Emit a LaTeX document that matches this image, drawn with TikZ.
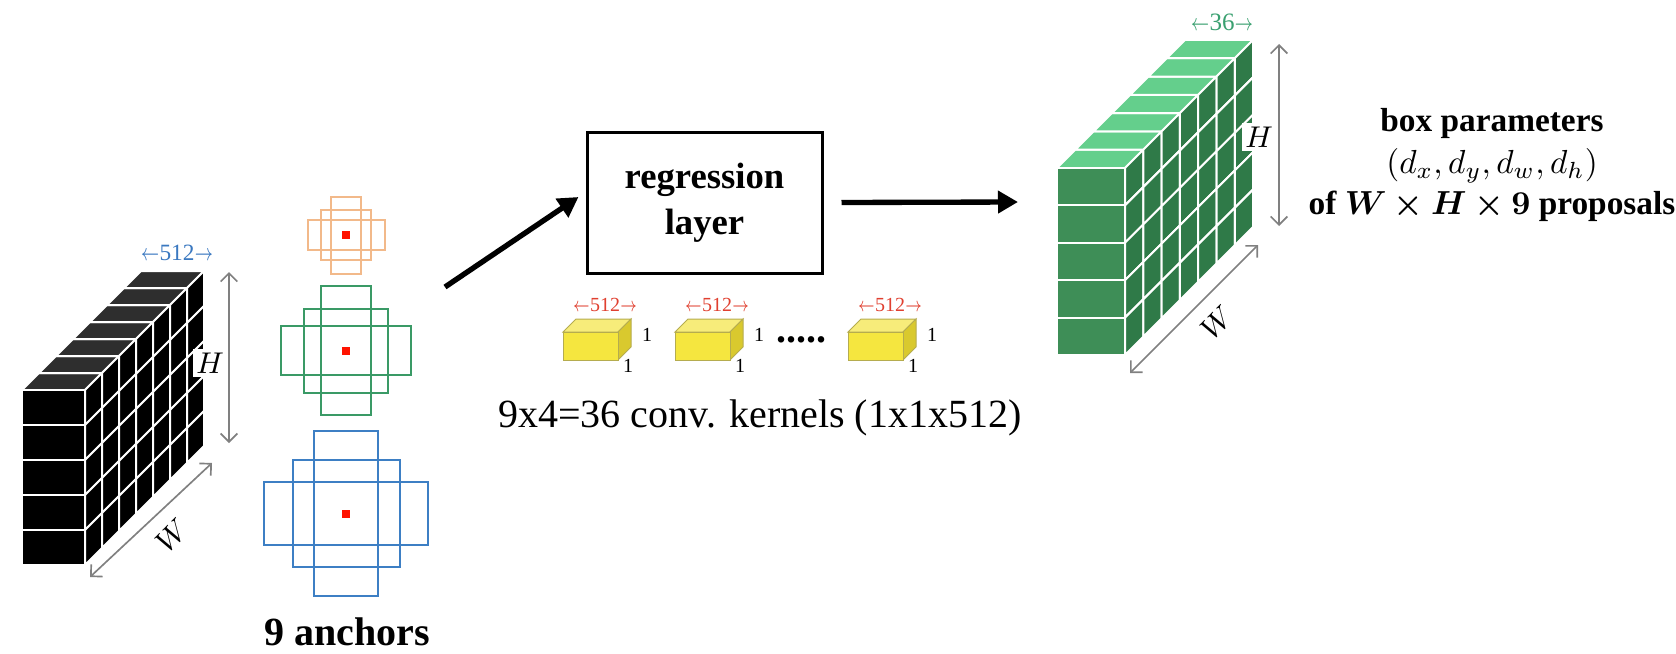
\documentclass[tikz,border=0pt]{standalone}
\usepackage{fontspec}
\setmainfont{Liberation Serif}
\usepackage{bm}
\usetikzlibrary{arrows.meta}

\definecolor{anchororange}{HTML}{F2B98A}
\definecolor{anchorgreen}{HTML}{3A9A66}
\definecolor{anchorblue}{HTML}{3D7FC4}
\definecolor{mapgreen}{HTML}{3E8E57}
\definecolor{mapgreenside}{HTML}{2F7A48}
\definecolor{mapgreentop}{HTML}{64CF8C}
\definecolor{maptop}{HTML}{2E2E2E}
\definecolor{kernfront}{HTML}{F5E63F}
\definecolor{kernside}{HTML}{D9C92E}
\definecolor{kerntop}{HTML}{F7EC7A}
\definecolor{dimblue}{HTML}{3A78C0}
\definecolor{dimgreen}{HTML}{3AA070}
\definecolor{dimred}{HTML}{E04030}

\newcommand{\lar}{\scalebox{0.7}[1]{$\leftarrow$}}
\newcommand{\rar}{\scalebox{0.7}[1]{$\rightarrow$}}

% feature map: x0, y0, width, row height, depth step, front, side, top
\newcommand{\featmap}[8]{%
  \foreach \k in {0,...,6} {
    \draw[cellline,fill=#8] ({#1+\k*#5},{#2-\k*#5}) -- ++(#3,0) -- ++(#5,-#5) -- ++(-#3,0) -- cycle;
    \foreach \r in {0,...,4}
      \draw[cellline,fill=#7] ({#1+#3+\k*#5},{#2-\k*#5+\r*#4}) -- ++(#5,-#5) -- ++(0,#4) -- ++(-#5,#5) -- cycle;
  }
  \foreach \r in {0,...,4}
    \draw[cellline,fill=#6] (#1,{#2+\r*#4}) rectangle ++(#3,#4);
}

% three anchors: centre x, centre y, size, colour
\newcommand{\anchorset}[4]{%
  \draw[anchorline,draw=#4] ({#1-0.295*#3},{#2-0.77*#3}) rectangle ({#1+0.295*#3},{#2+0.77*#3});
  \draw[anchorline,draw=#4] ({#1-0.5*#3},{#2-0.5*#3}) rectangle ({#1+0.5*#3},{#2+0.5*#3});
  \draw[anchorline,draw=#4] ({#1-0.77*#3},{#2-0.295*#3}) rectangle ({#1+0.77*#3},{#2+0.295*#3});
  \fill[red!85!orange] ({#1-4},{#2-4}) rectangle ++(8,8);
}

% 1x1 kernel: front top-left x, y
\newcommand{\kernelbox}[2]{%
  \draw[kernline,fill=kerntop] (#1,#2) -- ++(13,-13) -- ++(55,0) -- ++(-13,13) -- cycle;
  \draw[kernline,fill=kernside] ({#1+55},#2) -- ++(13,-13) -- ++(0,28) -- ++(-13,13) -- cycle;
  \draw[kernline,fill=kernfront] (#1,#2) rectangle ++(55,28);
}

\begin{document}
\begin{tikzpicture}[x=0.3pt,y=-0.3pt,
  cellline/.style={draw=white,line width=0.6pt},
  anchorline/.style={line width=0.6pt},
  kernline/.style={draw=kernside!60!gray,line width=0.3pt},
  bigarrow/.style={line width=1.6pt,-{Triangle[length=6pt,width=6.5pt]}},
  dimarrow/.style={draw=gray,line width=0.5pt,
    {Straight Barb[length=2.5pt,width=5pt]}-{Straight Barb[length=2.5pt,width=5pt]}},
  dimlabel/.style={fill=white,inner sep=1pt,font=\fontsize{9}{9}\selectfont},
  kernlabel/.style={inner sep=0pt,font=\fontsize{6}{6}\selectfont},
  regbox/.style={draw,line width=0.9pt,minimum width=70.5pt,minimum height=42.3pt,
    align=center,font=\bfseries\fontsize{11}{13.8}\selectfont}]
	\useasboundingbox (0,0) rectangle (1676,654);

	% input feature map
	\featmap{22}{390}{63}{35}{17}{black}{black}{maptop}
	\node[inner sep=0pt,text=dimblue,font=\fontsize{7}{7}\selectfont] (bdepth) at (177,253) {\lar512\rar};
	\coordinate (bHtop) at (229,272);
	\coordinate (bHbot) at (229,443);
	\draw[dimarrow] (bHtop) -- (bHbot);
	\node[dimlabel] (bH) at (210,363) {$H$};
	\coordinate (bWlow) at (90,577);
	\coordinate (bWup) at (212,463);
	\draw[dimarrow] (bWlow) -- (bWup);
	\node[inner sep=0pt,rotate=45,font=\fontsize{9}{9}\selectfont] (bW) at (172,535) {$W$};

	% anchors
	\anchorset{346}{235}{50}{anchororange}
	\anchorset{346}{350.5}{84}{anchorgreen}
	\anchorset{346}{513.5}{107}{anchorblue}
	\node[font=\bfseries\fontsize{12}{12}\selectfont] (anch) at (347,632) {9 anchors};

	% regression layer
	\node[regbox] (reg) at (704.5,202.5) {regression\\layer};
	\coordinate (featout) at (445,287);
	\draw[bigarrow] (featout) -- ([xshift=-2.1pt,yshift=1.65pt]reg.west);
	\coordinate (gin) at (1018,202);
	\draw[bigarrow] ([xshift=5.4pt]reg.east) -- (gin);

	% kernels
	\foreach \x/\n in {563/1,675/2,848/3} {
		\kernelbox{\x}{332}
		\node[kernlabel,text=dimred] (k\n w) at ({\x+42},305) {\lar512\rar};
		\node[kernlabel] (k\n d) at ({\x+84},335) {1};
		\node[kernlabel] (k\n h) at ({\x+65},366) {1};
	}
	\node[inner sep=0pt,font=\bfseries\fontsize{12}{12}\selectfont] (dots) at (801,340) {.....};
	\node[font=\fontsize{12}{12}\selectfont] (conv) at (760,418) {9x4=36 conv. kernels (1x1x512)};

	% output map
	\featmap{1057}{168}{68}{37.4}{18.3}{mapgreen}{mapgreenside}{mapgreentop}
	\node[inner sep=0pt,text=dimgreen,font=\fontsize{7.5}{7.5}\selectfont] (gdepth) at (1222,22) {\lar36\rar};
	\coordinate (gHtop) at (1279,44);
	\coordinate (gHbot) at (1279,226);
	\draw[dimarrow] (gHtop) -- (gHbot);
	\node[dimlabel] (gH) at (1259,137) {$H$};
	\coordinate (gWlow) at (1130,373);
	\coordinate (gWup) at (1258,245);
	\draw[dimarrow] (gWlow) -- (gWup);
	\node[inner sep=0pt,rotate=45,font=\fontsize{9}{9}\selectfont] (gW) at (1217,322) {$W$};

	\node[align=center,font=\bfseries\fontsize{10}{12.45}\selectfont] (params) at (1492,165)
		{box parameters\\$(d_x, d_y, d_w, d_h)$\\of $\bm{W\times H\times 9}$ proposals};
\end{tikzpicture}
\end{document}
